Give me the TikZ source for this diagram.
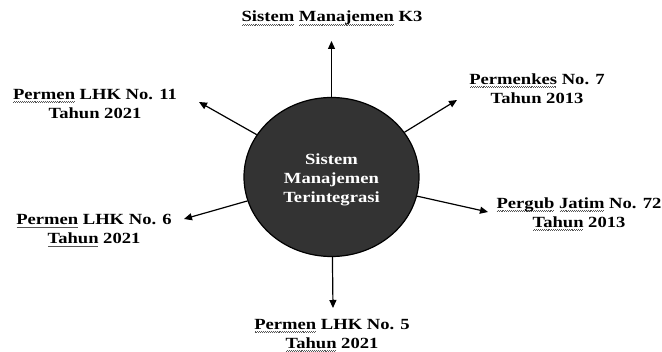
\documentclass[tikz,border=0pt]{standalone}
\usepackage{fontspec}
\setmainfont{Liberation Serif}
\usepackage{graphicx}
\usetikzlibrary{shapes.geometric,arrows.meta}

\definecolor{corefill}{HTML}{333333}
\definecolor{wavegray}{HTML}{555555}

% horizontally widened line of text
\newcommand\sx[1]{\scalebox{1.2}[1]{#1}}

% word with a small wavy underline
\newsavebox\wavyword
\newcommand\wavy[1]{\sbox\wavyword{#1}%
  \rlap{\smash{\hbox to \wd\wavyword{\color{wavegray}%
    \cleaders\hbox{\rule[-3.4pt]{0.8pt}{0.7pt}\rule[-2.6pt]{0.8pt}{0.7pt}}\hfil}}}%
  \usebox\wavyword}

\begin{document}
\begin{tikzpicture}[x=1pt,y=-1pt,
  lbl/.style={font=\fontsize{15.5}{19}\selectfont\bfseries, align=center, inner sep=0pt},
  arr/.style={line width=1.2pt, -{Triangle[length=8pt,width=7pt]}},
  hubstyle/.style={ellipse, draw=black, line width=1.2pt, fill=corefill,
    minimum width=175pt, minimum height=159pt, inner sep=0pt}]
\useasboundingbox (0,0) rectangle (662,352);

% central ellipse
\node[hubstyle] (hub) at (331.5,177) {};
\node[lbl, text=white] (hubtext) at (331.5,180)
  {\sx{Sistem}\\\sx{Manajemen}\\\sx{Terintegrasi}};

% surrounding labels
\node[lbl, anchor=base] (k3) at (332,22)
  {\sx{\wavy{Sistem} \wavy{Manajemen} K3}};
\node[lbl] (lhk11) at (95,103.75)
  {\sx{\wavy{Permen} LHK No. 11}\\\sx{Tahun 2021}};
\node[lbl] (kes7) at (537,88.75)
  {\sx{\wavy{Permenkes} No. 7}\\\sx{Tahun 2013}};
\node[lbl] (lhk6) at (94,229.25)
  {\sx{\wavy{Permen} LHK No. 6}\\\sx{\wavy{Tahun} 2021}};
\node[lbl] (pergub) at (579,212.25)
  {\sx{\wavy{Pergub} \wavy{Jatim} No. 72}\\\sx{\wavy{Tahun} 2013}};
\node[lbl] (lhk5) at (332,334)
  {\sx{\wavy{Permen} LHK No. 5}\\\sx{\wavy{Tahun} 2021}};

% arrow tips
\coordinate (tTop) at (331.5,41);
\coordinate (tUL) at (199,102);
\coordinate (tUR) at (457,100);
\coordinate (tLL) at (184,219);
\coordinate (tLR) at (488,212);
\coordinate (tBot) at (333,308);

% connectors
\draw[arr] (hub) -- (tTop);
\draw[arr] (hub) -- (tUL);
\draw[arr] (hub) -- (tUR);
\draw[arr] (hub) -- (tLL);
\draw[arr] (hub) -- (tLR);
\draw[arr] (hub) -- (tBot);
\end{tikzpicture}
\end{document}
